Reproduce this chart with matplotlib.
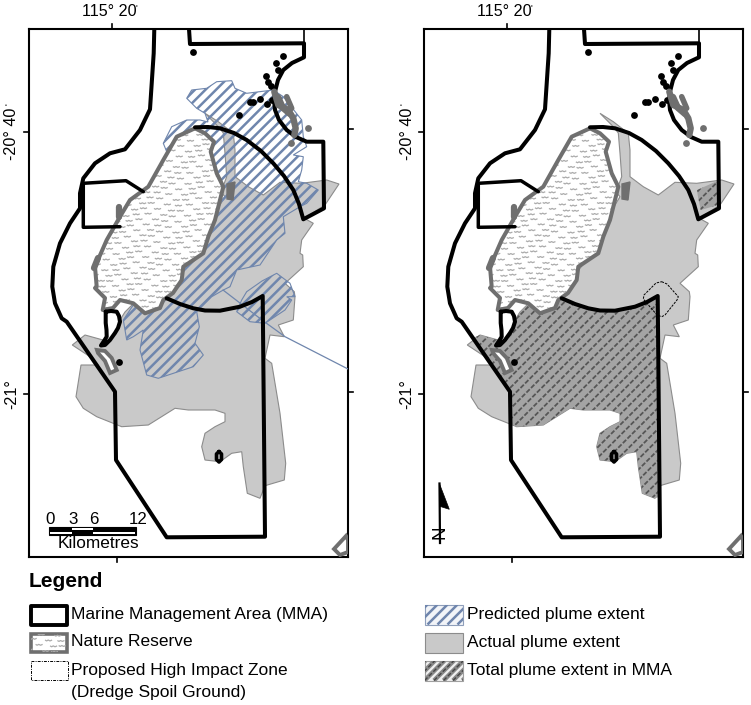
import numpy as np
import matplotlib
matplotlib.use("Agg")
import matplotlib.pyplot as plt
from matplotlib.patches import Polygon, Rectangle
from matplotlib.collections import LineCollection
from matplotlib.path import Path

plt.rcParams['font.family'] = ['Liberation Sans', 'DejaVu Sans']

W, H = 751, 705
FRAME_X = (29, 348)
FRAME_Y = (29, 557)
PANEL_OFFSET = 395

GREY_RES = '#6f6f6f'
GREY_ACT = '#c9c9c9'
EDGE_ACT = '#8c8c8c'
BLUE = '#6f86ad'

lon_ticks_top = [111.5]
lon_ticks_bottom = [117]
lat_ticks_left = [132, 394]
lat_ticks_right = [129, 391.7]
lon_label = "115° 20"
lat_labels = ["-20° 40", "-21°"]
lat_primes = [True, False]

mma_main = [(154.3,29),(153.7,53.3),(150,109.3),(140,130),(125,149.3),(110,153.3),(95,163.3),
            (83.3,178.3),(80,193.3),(80,208.3),(70,223.3),(60,243.3),(53.3,266.7),(52.3,286.7),
            (55,303.3),(61.7,318.3),(66.7,321.7),(115,391.7),(116,460),(166.7,537.3),(265,536.7),
            (262.7,296),(252,302),(240,306.7),(220,310.7),(205,310.5),(193.3,308.3),(180,304),(166.7,298.3)]
mma_east = [(195,127.3),(208,127),(220,128.3),(234,133),(246.7,140),(261,151),(273.3,163.3),(284,176),(293.3,190),
            (299,204),(303.3,219.3),(324,208.3),(323.3,141.7),(306.7,141.7),(296,137),(286.7,130),(279,120),(275,110),
            (274,100),(275,91.7),(278,80),(283.3,70),(292,63),(304,57.3),(304,43.3),(190,44),(189,29)]
mma_north_tick = [(304,43.3),(304,29)]
mma_box = [(143.3,191.7),(126,180.7),(83.3,183.3),(83.3,227.3),(120,226.7)]
mma_lens = [(105.7,311.7),(111,311),(116.7,311.7),(119,316),(120,321.7),(118,328),(115,333),(110,340),(105,345),
            (101,345.5),(104,341),(106.7,336.7),(106.5,330),(105.7,323)]
mma_islet = [(219,451.5),(221.5,454),(221.5,459.5),(219,462),(216.5,459.5),(216.5,454)]

reserve = [(195,128.3),(205,133.3),(214,141.7),(210.7,151.7),(216.7,173.3),(223.3,186.7),(220,200),(215,220),
           (208.3,236.7),(203.3,253.3),(193.3,260),(183.3,266.7),(181.7,280),(173,293),(163.3,300),(160,308),
           (145,313.3),(133.3,303.3),(120,300),(113,308),(102.7,310),(105,298),(95,288),(96.7,286.7),(95,266.7),
           (106.7,240),(120,216.7),(130,200),(148.3,186.7),(163.3,160),(176.7,136.7)]
reserve_south = [(97,350),(105,351),(111.7,358),(116.7,370),(110,373),(105,361),(98,353)]
reef_a = [(274.3,91.7),(278.3,105),(288.3,110),(293.3,118.3),(295.7,128.3),(294.3,135)]
reef_b = [(286.7,96.7),(291.7,108.3)]
reef_c = [(278,97),(283,108),(290,114)]
reserve_bump_a = [(98,258),(94,268)]
reserve_bump_b = [(119,207),(119,217)]
blob_east = [(227,184),(235,182),(233,200),(227,199)]
blob_sw = [(334,549),(346,536),(348,540),(348,552),(340,555)]

actual = [(205,113.3),(218.3,121.7),(233.3,133.3),(235,150),(235,176.7),(248.3,186.7),(263.3,195),(280,182.3),
          (301.7,183.3),(326.7,180),(339,184),(325,205),(304.3,218.3),(313.3,223.3),(301.7,240),(300,253.3),
          (302.7,255),(303.3,266.7),(285,283.3),(294.3,291.7),(295,296.7),(293.3,320),(278.3,325),(284.3,336.7),
          (270,335),(265,358.3),(271.7,363.3),(280,413.3),(285.7,463.3),(284.3,480),(265,485.7),(260,498.3),
          (247.3,493.3),(243.3,466.7),(241.7,451.7),(231.7,453.3),(220,461.7),(205,460),(201.7,446.7),(205,433.3),
          (215,426.7),(225,421.7),(225,413.3),(215,410),(188.3,410),(175,408.3),(148.3,425),(121.7,426.7),
          (96.7,416.7),(83.3,408.3),(76,396.7),(81,365),(98.3,365),(92,358),(72.3,345),(85,335),(103,340),(113,335),
          (118,323),(125,312),(135,302),(145,313),(160,300),(190,262),(205,245),(214,215),(225,196.7),(221,192),
          (226.7,176.7),(225,153.3),(223.3,133),(218.3,126.7)]
predicted_main = [(186.7,98.3),(191.7,90),(206.7,88.3),(216.7,81.7),(231.7,80.7),(235,88.3),(246.7,93.3),(273.3,90),
                  (283.3,96.7),(301.7,120),(303.3,136.7),(306.7,146.7),(293.3,155),(303.3,156.7),(301.7,170),
                  (298.3,181.7),(306.7,183.3),(318.3,190),(306.7,203.3),(300,206.7),(283.3,216.7),(285,233.3),
                  (276.7,240),(260,265),(236.7,270),(230,286.7),(223.3,290),(211.7,296.7),(196.7,311.7),(199.3,326.7),
                  (195,343.3),(203.3,355),(193.3,366.7),(158.3,378.3),(146.7,375),(140,350),(143.3,330),(133.3,336.7),
                  (126.7,340),(123.3,320),(133.3,305),(150,290),(180,200),(190,170),(166.7,151.7),(163.3,143.3),
                  (171.7,126.7),(186.7,120),(200,120),(208,122),(205,113.3),(196.7,108.3)]
predicted_patch = [(246.7,291.7),(262,281),(276.7,273.3),(290,283.3),(295,296.7),(286.7,296.7),(291.7,300),(285,310),
                   (265,323.3),(250,321.7),(236.7,311.7),(241.7,300)]
predicted_wisp = [(223,290),(262,320),(285,336.7),(348,369)]
total_main = [(166.7,298.3),(180,304),(193.3,308.3),(205,310.5),(220,310.7),(240,306.7),(252,302),(262.7,296),(264,497),
              (260,498.3),(247.3,493.3),(243.3,466.7),(241.7,451.7),(231.7,453.3),(220,461.7),(205,460),(201.7,446.7),
              (205,433.3),(215,426.7),(225,421.7),(225,413.3),(215,410),(188.3,410),(175,408.3),(148.3,425),(121.7,426.7),
              (115.5,424),(115,391.7),(78,338),(85,335),(103,340),(113,335),(118,323),(125,312),(135,302),(145,313)]
total_ne = [(302,190),(320,182),(323.3,181.7),(323.3,205),(305.7,210),(303,197)]
dredge = [(266.7,281.7),(272,284),(283.3,296.7),(282,300),(270,315),(266.7,316.7),(262,315),(248.3,299),(249,295),(261,283)]

dots_black = [(283.3,56),(276,63.3),(277.7,70),(265.7,75.7),(267.7,81.7),(271,86),(250,101.7),(253.3,101.7),(260,99),
              (267.3,104),(271.7,100),(193.3,52.3),(239,114.7),(119.3,362)]
dots_grey = [(308.3,128),(291.3,142.7)]
scale_labels = [("0",50),("3",73.3),("6",94),("12",137.7)]


def hatch_lines(ax, clip, spacing, color, lw, dashes=None, zorder=3):
    pts = np.asarray(clip.get_xy())
    x0, x1 = pts[:, 0].min(), pts[:, 0].max()
    y0, y1 = pts[:, 1].min(), pts[:, 1].max()
    span = (y1 - y0) + (x1 - x0)
    segs = [[(c, y1), (c + (y1 - y0), y0)] for c in np.arange(x0 - span, x1 + spacing, spacing)]
    lc = LineCollection(segs, colors=color, linewidths=lw, zorder=zorder,
                        linestyles='solid' if dashes is None else [(0, dashes)])
    ax.add_collection(lc, autolim=False)
    lc.set_clip_path(clip)
    return lc


wave = Path([(-1, 0.05), (-0.55, -0.2), (-0.1, 0.05), (0.4, -0.2), (1, 0.05)])


def texture(ax, clip, zorder=4):
    pts = np.asarray(clip.get_xy())
    x0, x1 = pts[:, 0].min(), pts[:, 0].max()
    y0, y1 = pts[:, 1].min(), pts[:, 1].max()
    ys = np.arange(y0, y1, 5.4)
    xs, yy = [], []
    for i, y in enumerate(ys):
        row = np.arange(x0 + (i % 3) * 4.2, x1, 12.5)
        xs.extend(row + 2.2 * np.sin(row * 1.7 + i))
        yy.extend(y + 1.4 * np.cos(row * 0.9 + 2 * i))
    sc = ax.scatter(xs, yy, marker=wave, s=26, facecolors='none', edgecolors='#ababab',
                    linewidths=0.9, zorder=zorder)
    sc.set_clip_path(clip)


def line(ax, pts, color='black', lw=2.9, zorder=6, closed=False, **kw):
    a = np.asarray(pts + pts[:1] if closed else pts)
    ax.plot(a[:, 0], a[:, 1], color=color, lw=lw, zorder=zorder, solid_joinstyle='round',
            solid_capstyle='round', **kw)


fig = plt.figure(figsize=(W / 100, H / 100), dpi=100)
bg = fig.add_axes([0, 0, 1, 1])
bg.set_xlim(0, W)
bg.set_ylim(H, 0)
bg.axis('off')


def panel(off):
    ax = fig.add_axes([(FRAME_X[0] + off) / W, 1 - FRAME_Y[1] / H,
                       (FRAME_X[1] - FRAME_X[0]) / W, (FRAME_Y[1] - FRAME_Y[0]) / H])
    ax.set_xlim(*FRAME_X)
    ax.set_ylim(FRAME_Y[1], FRAME_Y[0])
    ax.set_xticks([])
    ax.set_yticks([])
    for s in ax.spines.values():
        s.set_linewidth(1.5)
    for x in lon_ticks_top:
        bg.plot([x + off, x + off], [24, 29], color='k', lw=1.2)
    for x in lon_ticks_bottom:
        bg.plot([x + off, x + off], [557, 562], color='k', lw=1.2)
    for y in lat_ticks_left:
        bg.plot([24 + off, 29 + off], [y, y], color='k', lw=1.2)
    for y in lat_ticks_right:
        bg.plot([348 + off, 353 + off], [y, y], color='k', lw=1.2)
    bg.text(109 + off, 11.5, lon_label, fontsize=11.6, ha='center', va='center')
    bg.text(136.5 + off, 8.5, "'", fontsize=6.5, ha='center', va='center')
    for y, t, pr in zip(lat_ticks_left, lat_labels, lat_primes):
        bg.text(12 + off, y + (2 if pr else 0), t, fontsize=11.6, rotation=90, ha='center', va='center')
        if pr:
            bg.text(8.5 + off, y - 27.5, "'", fontsize=6.5, rotation=90, ha='center', va='center')
    return ax


def common_top(ax):
    isl = Polygon(reserve, closed=True, fc='white', ec='none', zorder=4)
    ax.add_patch(isl)
    texture(ax, isl)
    ax.add_patch(Polygon(reserve, closed=True, fc='none', ec=GREY_RES, lw=2.9, zorder=5, joinstyle='round'))
    ax.add_patch(Polygon(mma_lens, closed=True, fc='white', ec='none', zorder=4.5))
    ax.add_patch(Polygon(reserve_south, closed=True, fc='white', ec=GREY_RES, lw=2.8, zorder=5))
    ax.add_patch(Polygon(blob_east, closed=True, fc=GREY_RES, ec=GREY_RES, lw=1, zorder=5))
    ax.add_patch(Polygon(blob_sw, closed=True, fc='white', ec=GREY_RES, lw=2.8, zorder=5))
    line(ax, reef_a, color=GREY_RES, lw=4.6, zorder=7)
    line(ax, reef_b, color=GREY_RES, lw=4.0, zorder=7)
    line(ax, reef_c, color=GREY_RES, lw=4.6, zorder=7)
    line(ax, reserve_bump_a, color=GREY_RES, lw=4.5, zorder=5)
    line(ax, reserve_bump_b, color=GREY_RES, lw=4.5, zorder=5)
    line(ax, mma_main)
    line(ax, mma_east)
    line(ax, mma_box, lw=2.5)
    line(ax, mma_north_tick, lw=1.2)
    line(ax, mma_lens, closed=True, lw=2.9)
    line(ax, mma_islet, closed=True, lw=2.6)
    a = np.array(dots_black)
    ax.scatter(a[:, 0], a[:, 1], s=24, c='black', zorder=6.5, linewidths=0)
    g = np.array(dots_grey)
    ax.scatter(g[:, 0], g[:, 1], s=24, c=GREY_RES, zorder=7, linewidths=0)


# Left panel: predicted over actual
ax1 = panel(0)
ax1.add_patch(Polygon(actual, closed=True, fc=GREY_ACT, ec=EDGE_ACT, lw=0.8, zorder=1))
for poly in (predicted_main, predicted_patch):
    clip = Polygon(poly, closed=True, fc='none', ec=BLUE, lw=0.8, zorder=3)
    ax1.add_patch(clip)
    hatch_lines(ax1, clip, 10.6, BLUE, 1.8)
line(ax1, predicted_wisp, color=BLUE, lw=0.9, zorder=3)
common_top(ax1)
for t, x in scale_labels:
    ax1.text(x, 519, t, fontsize=12.2, ha='center', va='center', zorder=8)
ax1.add_patch(Rectangle((49.3, 527.3), 86.4, 7.7, fc='black', ec='black', lw=0.8, zorder=8))
ax1.add_patch(Rectangle((71.5, 528.3), 21, 1.7, fc='white', ec='none', zorder=9))
ax1.add_patch(Rectangle((50, 532), 21.5, 1.7, fc='white', ec='none', zorder=9))
ax1.add_patch(Rectangle((92.5, 532), 42.5, 1.7, fc='white', ec='none', zorder=9))
ax1.text(98, 543, "Kilometres", fontsize=12.4, ha='center', va='center', zorder=8)

# Right panel: total in MMA
ax2 = panel(PANEL_OFFSET)
ax2.add_patch(Polygon(actual, closed=True, fc=GREY_ACT, ec=EDGE_ACT, lw=0.8, zorder=1))
for poly in (total_main, total_ne):
    clip = Polygon(poly, closed=True, fc='#a4a4a4', ec='none', zorder=2)
    ax2.add_patch(clip)
    hatch_lines(ax2, clip, 10.5, '#565656', 1.3, dashes=(2.6, 1.0))
ax2.add_patch(Polygon(dredge, closed=True, fc='none', ec='black', lw=0.7, ls=(0, (2.5, 1.2)), zorder=6))
common_top(ax2)
ax2.plot([44.5, 45], [483.5, 543], color='black', lw=1.6, zorder=8)
ax2.add_patch(Polygon([(44.3, 483.3), (54.3, 509.3), (46, 506.7), (44.5, 506.7)], closed=True, fc='black', ec='black',
                      lw=0.5, zorder=8))
ax2.text(45, 532, "N", fontsize=13.5, rotation=90, ha='center', va='center', zorder=9)

# Legend
bg.text(29, 581.5, "Legend", fontsize=15, fontweight='bold', ha='left', va='center')
left_items = ["Marine Management Area (MMA)", "Nature Reserve", "Proposed High Impact Zone", "(Dredge Spoil Ground)"]
right_items = ["Predicted plume extent", "Actual plume extent", "Total plume extent in MMA"]

bg.add_patch(Rectangle((31, 605.5), 36, 19, fc='white', ec='black', lw=2.8, joinstyle='round'))
sw = Rectangle((31, 634), 36, 18, fc='white', ec=GREY_RES, lw=2.6)
bg.add_patch(sw)
swp = Polygon([(31, 634), (67, 634), (67, 652), (31, 652)], closed=True, fc='none', ec='none')
bg.add_patch(swp)
texture(bg, swp)
bg.add_patch(Rectangle((30.5, 661), 37, 19, fc='none', ec='black', lw=0.7, ls=(0, (3, 1.2, 1, 1.2))))
for y, t in zip([614, 642, 671, 692], left_items):
    bg.text(71, y, t, fontsize=12.5, ha='left', va='center')

p = Polygon([(425, 604.5), (462.5, 604.5), (462.5, 624.5), (425, 624.5)], closed=True, fc='#f2f4f8', ec='#8f9fbb', lw=0.8)
bg.add_patch(p)
hatch_lines(bg, p, 10, BLUE, 1.8)
bg.add_patch(Rectangle((425, 632.7), 37.5, 20, fc=GREY_ACT, ec=EDGE_ACT, lw=0.8))
p = Polygon([(425, 660.5), (462.5, 660.5), (462.5, 680.5), (425, 680.5)], closed=True, fc='#f0f0f0', ec='#a0a0a0', lw=0.8)
bg.add_patch(p)
hatch_lines(bg, p, 9.5, '#888888', 3.2)
hatch_lines(bg, p, 9.5, '#444444', 1.0, dashes=(3, 1.5), zorder=4)
for y, t in zip([615, 642.7, 671], right_items):
    bg.text(467, y, t, fontsize=12.5, ha='left', va='center')

bg.set_xlim(0, W)
bg.set_ylim(H, 0)
fig.savefig("out.png", dpi=100)
